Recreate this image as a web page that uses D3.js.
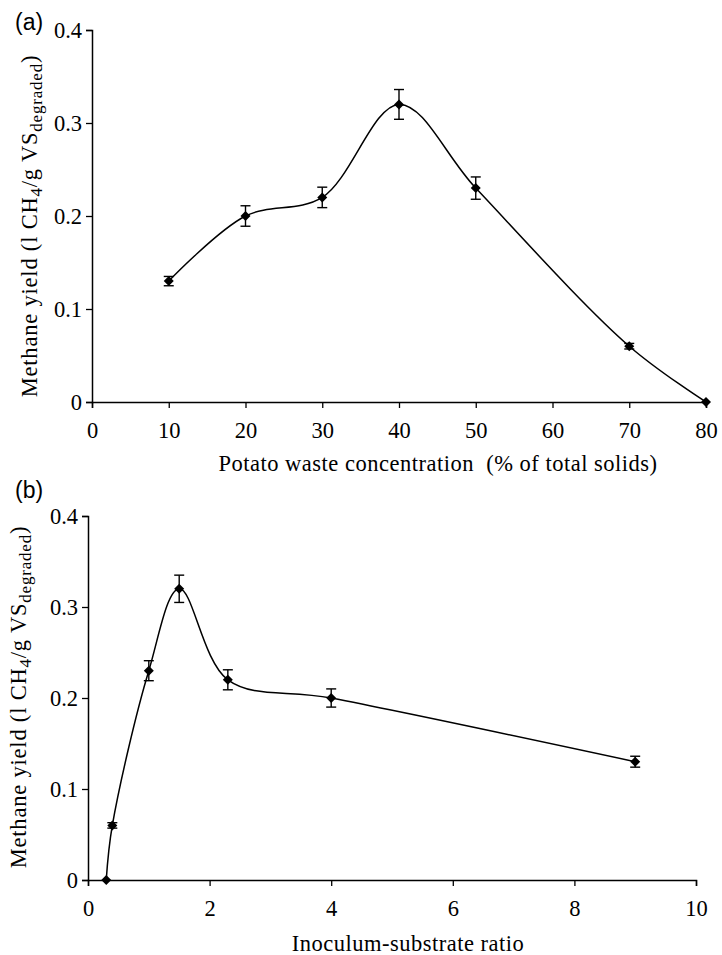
<!DOCTYPE html>
<html>
<head>
<meta charset="utf-8">
<script src="https://cdn.jsdelivr.net/npm/d3@7/dist/d3.min.js"></script>
<style>
  body { margin: 0; background: #fff; }
  svg { display: block; }
</style>
</head>
<body>
<div id="chart"></div>
<script>
// panel (a) - potato waste concentration
var concX = [10, 20, 30, 40, 50, 70, 80];
var concY = [0.13, 0.20, 0.22, 0.32, 0.23, 0.06, 0.0];
var concErr = [0.005, 0.011, 0.011, 0.016, 0.012, 0.003, 0];
var concTicks = [0, 10, 20, 30, 40, 50, 60, 70, 80];

// panel (b) - inoculum-substrate ratio
var ratioX = [0.3, 0.4, 1.0, 1.5, 2.3, 4, 9];
var ratioY = [0.0, 0.06, 0.23, 0.32, 0.22, 0.20, 0.13];
var ratioErr = [0, 0.003, 0.011, 0.015, 0.011, 0.01, 0.006];
var ratioTicks = [0, 2, 4, 6, 8, 10];

var yTicks = [0, 0.1, 0.2, 0.3, 0.4];

var W = 722, H = 955;
var serif = '"Liberation Serif", "Times New Roman", serif';
var sans = '"Liberation Sans", Arial, sans-serif';

var svg = d3.select('#chart').append('svg')
  .attr('width', W).attr('height', H);

drawPanel({
  label: '(a)', labelX: 15, labelY: 30,
  xs: concX, ys: concY, errs: concErr,
  xDomain: [0, 80], xRange: [92, 706], xTicks: concTicks,
  yRange: [402, 30],
  xTitle: 'Potato waste concentration\u00a0\u00a0(% of total solids)', xTitleX: 438, xTitleY: 471,
  yTitleX: 37, yTitleY: 226
});

drawPanel({
  label: '(b)', labelX: 15, labelY: 498,
  xs: ratioX, ys: ratioY, errs: ratioErr,
  xDomain: [0, 10], xRange: [88, 696], xTicks: ratioTicks,
  yRange: [880, 516],
  xTitle: 'Inoculum-substrate ratio', xTitleX: 408, xTitleY: 951,
  yTitleX: 26, yTitleY: 697
});

function drawPanel(o) {
  var x = d3.scaleLinear().domain(o.xDomain).range(o.xRange);
  var y = d3.scaleLinear().domain([0, 0.4]).range(o.yRange);
  var g = svg.append('g');

  // axes
  var xAxis = d3.axisBottom(x).tickValues(o.xTicks).tickSizeOuter(0).tickSize(6).tickPadding(14)
    .tickFormat(d3.format('d'));
  var yAxis = d3.axisLeft(y).tickValues(yTicks).tickSizeOuter(0).tickSize(6).tickPadding(4)
    .tickFormat(function(d) { return d === 0 ? '0' : d3.format('.1f')(d); });

  var gx = g.append('g').attr('transform', 'translate(0,' + o.yRange[0] + ')').call(xAxis);
  var gy = g.append('g').attr('transform', 'translate(' + o.xRange[0] + ',0)').call(yAxis);

  [gx, gy].forEach(function(a) {
    a.attr('font-family', serif).attr('font-size', 22.5);
    a.select('.domain').attr('stroke', '#000').attr('stroke-width', 1.5);
    a.selectAll('.tick line').attr('stroke', '#000').attr('stroke-width', 1.3);
    a.selectAll('.tick text').attr('fill', '#000')
      .style('font-family', serif).style('font-size', '22.5px');
  });

  // smooth line
  var pts = o.xs.map(function(v, i) { return [v, o.ys[i]]; });
  var line = d3.line()
    .x(function(d) { return x(d[0]); })
    .y(function(d) { return y(d[1]); })
    .curve(d3.curveCatmullRom.alpha(0.5));
  g.append('path').datum(pts)
    .attr('d', line)
    .attr('fill', 'none').attr('stroke', '#000').attr('stroke-width', 1.5);

  // error bars
  var eb = g.selectAll('.err').data(pts).enter().append('g').attr('class', 'err');
  eb.each(function(d, i) {
    var e = o.errs[i];
    if (!e) return;
    var s = d3.select(this), cx = x(d[0]);
    var y1 = y(d[1] + e), y2 = y(d[1] - e);
    s.append('line').attr('x1', cx).attr('x2', cx).attr('y1', y1).attr('y2', y2);
    s.append('line').attr('x1', cx - 5).attr('x2', cx + 5).attr('y1', y1).attr('y2', y1);
    s.append('line').attr('x1', cx - 5).attr('x2', cx + 5).attr('y1', y2).attr('y2', y2);
  });
  eb.selectAll('line').attr('stroke', '#000').attr('stroke-width', 1.4);

  // diamond markers
  g.selectAll('.pt').data(pts).enter().append('path')
    .attr('class', 'pt')
    .attr('d', 'M0,-5L5,0L0,5L-5,0Z')
    .attr('transform', function(d) { return 'translate(' + x(d[0]) + ',' + y(d[1]) + ')'; })
    .attr('fill', '#000');

  // x title
  g.append('text')
    .attr('x', o.xTitleX).attr('y', o.xTitleY)
    .attr('text-anchor', 'middle')
    .style('font-family', serif).style('font-size', '22.5px')
    .style('letter-spacing', '0.5px')
    .text(o.xTitle);

  // y title (rotated, with subscripts)
  var yt = g.append('text')
    .attr('transform', 'translate(' + o.yTitleX + ',' + o.yTitleY + ') rotate(-90)')
    .attr('text-anchor', 'middle')
    .style('font-family', serif).style('font-size', '22.5px')
    .style('letter-spacing', '0.8px');
  yt.append('tspan').text('Methane yield (l CH');
  yt.append('tspan').attr('dy', 5).style('font-size', '17px').text('4');
  yt.append('tspan').attr('dy', -5).text('/g VS');
  yt.append('tspan').attr('dy', 5).style('font-size', '17px').text('degraded');
  yt.append('tspan').attr('dy', -5).text(')');

  // panel label
  g.append('text')
    .attr('x', o.labelX).attr('y', o.labelY)
    .style('font-family', sans).style('font-size', '23px')
    .text(o.label);
}
</script>
</body>
</html>
